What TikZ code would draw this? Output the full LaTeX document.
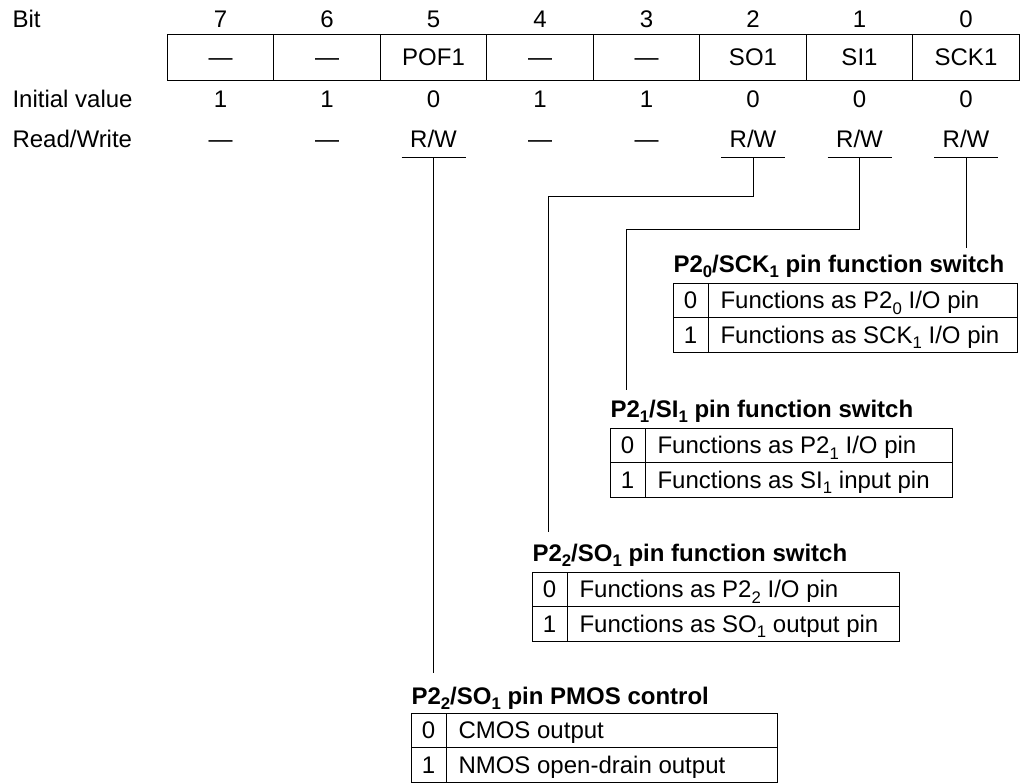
\documentclass[tikz,border=0pt]{standalone}
\usepackage{fontspec}
\setmainfont{Liberation Sans}
\usetikzlibrary{positioning}
\newcommand{\lowidx}[1]{\raisebox{-4.2pt}{\fontsize{12.6}{14}\selectfont #1}}

\begin{document}
\begin{tikzpicture}[x=0.75pt,y=-0.75pt,line width=0.75pt,
    every node/.style={inner sep=0pt,font=\fontsize{18}{21}\selectfont},
    ttl/.style={anchor=base west,font=\fontsize{18}{21}\selectfont\bfseries},
    cell/.style={anchor=base},
    desc/.style={anchor=base west}]
    \useasboundingbox (0,0) rectangle (1021,783);

    % Row labels
    \node[anchor=base west] (bit) at (12,27) {Bit};
    \node[anchor=base west] (init) at (12,107) {Initial value};
    \node[anchor=base west] (rw) at (12,147) {Read/Write};

    % Register
    \draw (167,34) rectangle (1019,80);
    \foreach \i in {1,...,7}
        \draw (167+\i*106.5,34) -- (167+\i*106.5,80);
    \foreach \b/\name/\val/\acc in {7/\textemdash/1/\textemdash,6/\textemdash/1/\textemdash,
        5/POF1/0/{R/W},4/\textemdash/1/\textemdash,3/\textemdash/1/\textemdash,
        2/SO1/0/{R/W},1/SI1/0/{R/W},0/SCK1/0/{R/W}} {
        \pgfmathsetmacro\cx{966-106.5*\b}
        \node[cell] (b\b) at (\cx,27) {\b};
        \node[cell] (r\b) at (\cx,65) {\name};
        \node[cell] (v\b) at (\cx,107) {\val};
        \node[cell] (a\b) at (\cx,147) {\acc};
    }

    % Underlines below R/W
    \foreach \b in {0,1,2,5} {
        \pgfmathsetmacro\cx{966-106.5*\b}
        \draw (\cx-32,157) -- (\cx+32,157);
        \coordinate (u\b) at (\cx,157);
    }

    % P2_0/SCK_1 pin function switch
    \begin{scope}[shift={(673,283)}]
        \node[ttl] (tab0) at (0,-11) {P2\lowidx{0}/SCK\lowidx{1} pin function switch};
        \draw (0,0) rectangle (344,69);
        \draw (0,34.5) -- (344,34.5);
        \draw (35,0) -- (35,69);
        \node[cell] (tab0r0) at (17.5,25.5) {0};
        \node[cell] (tab0r1) at (17.5,60) {1};
        \node[desc] (tab0d0) at (47,25.5) {Functions as P2\lowidx{0} I/O pin};
        \node[desc] (tab0d1) at (47,60) {Functions as SCK\lowidx{1} I/O pin};
    \end{scope}

    % P2_1/SI_1 pin function switch
    \begin{scope}[shift={(610,428)}]
        \node[ttl] (tab1) at (0,-11) {P2\lowidx{1}/SI\lowidx{1} pin function switch};
        \draw (0,0) rectangle (342,69);
        \draw (0,34.5) -- (342,34.5);
        \draw (35,0) -- (35,69);
        \node[cell] (tab1r0) at (17.5,25.5) {0};
        \node[cell] (tab1r1) at (17.5,60) {1};
        \node[desc] (tab1d0) at (47,25.5) {Functions as P2\lowidx{1} I/O pin};
        \node[desc] (tab1d1) at (47,60) {Functions as SI\lowidx{1} input pin};
    \end{scope}

    % P2_2/SO_1 pin function switch
    \begin{scope}[shift={(532,572)}]
        \node[ttl] (tab2) at (0,-11) {P2\lowidx{2}/SO\lowidx{1} pin function switch};
        \draw (0,0) rectangle (367,69);
        \draw (0,34.5) -- (367,34.5);
        \draw (35,0) -- (35,69);
        \node[cell] (tab2r0) at (17.5,25.5) {0};
        \node[cell] (tab2r1) at (17.5,60) {1};
        \node[desc] (tab2d0) at (47,25.5) {Functions as P2\lowidx{2} I/O pin};
        \node[desc] (tab2d1) at (47,60) {Functions as SO\lowidx{1} output pin};
    \end{scope}

    % P2_2/SO_1 pin PMOS control
    \begin{scope}[shift={(411,713)}]
        \node[ttl] (tab5) at (0,-9) {P2\lowidx{2}/SO\lowidx{1} pin PMOS control};
        \draw (0,0) rectangle (366,69);
        \draw (0,34.5) -- (366,34.5);
        \draw (35,0) -- (35,69);
        \node[cell] (tab5r0) at (17.5,25.5) {0};
        \node[cell] (tab5r1) at (17.5,60) {1};
        \node[desc] (tab5d0) at (47,25.5) {CMOS output};
        \node[desc] (tab5d1) at (47,60) {NMOS open-drain output};
    \end{scope}

    % Leaders
    \coordinate (e0) at (966,248);
    \coordinate (k1) at (626,229);
    \coordinate (e1) at (626,390);
    \coordinate (k2) at (548,196);
    \coordinate (e2) at (548,532);
    \coordinate (e5) at (433.5,673);
    \draw (u0) -- (e0);
    \draw (u1) |- (k1) -- (e1);
    \draw (u2) |- (k2) -- (e2);
    \draw (u5) -- (e5);
\end{tikzpicture}
\end{document}
